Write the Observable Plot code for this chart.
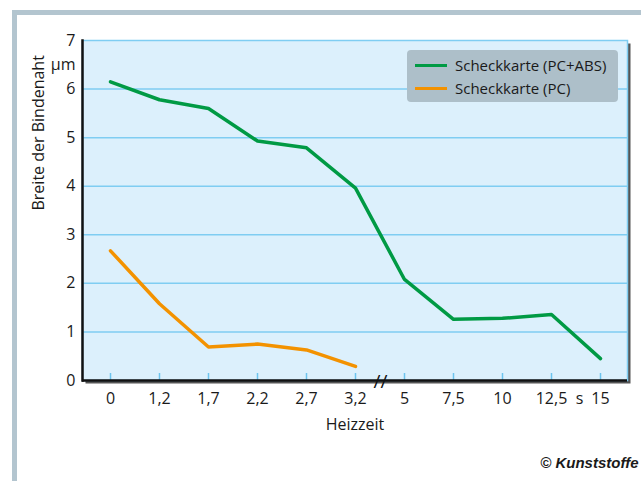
<!DOCTYPE html>
<html>
<head>
<meta charset="utf-8">
<script src="https://cdn.jsdelivr.net/npm/d3@7"></script>
<script src="https://cdn.jsdelivr.net/npm/@observablehq/plot@0.6"></script>
<style>
  html, body { margin: 0; padding: 0; background: #fff; width: 641px; height: 481px; overflow: hidden; }
  #wrap { position: relative; width: 641px; height: 481px; overflow: hidden; font-family: "Open Sans", sans-serif; color: #1a1a1a; }
  #border { position: absolute; left: 12px; top: 10px; width: 700px; height: 600px; border: 5px solid #b3c5cf; box-sizing: border-box; }
  #chart { position: absolute; left: 0; top: 0; }
  #legend { position: absolute; left: 407px; top: 50px; width: 211px; height: 52px; background: #adbfc9; border-radius: 4px; }
  .item { position: absolute; left: 8px; height: 22px; display: flex; align-items: center; font-size: 15px; white-space: nowrap; }
  .sw { width: 32px; height: 3px; margin-right: 8px; }
</style>
</head>
<body>
<div id="wrap">
  <div id="border"></div>
  <div id="chart"></div>
  <div id="legend"></div>
</div>
<script>
const categories = ["0", "1,2", "1,7", "2,2", "2,7", "3,2", "5", "7,5", "10", "12,5", "15"];
const pcAbsValues = [6.15, 5.78, 5.60, 4.93, 4.79, 3.96, 2.08, 1.26, 1.28, 1.36, 0.45];
const pcValues = [2.67, 1.58, 0.69, 0.75, 0.63, 0.29];
const yTicks = [0, 1, 2, 3, 4, 5, 6, 7];
const gridValues = [1, 2, 3, 4, 5, 6];
const seriesNames = ["Scheckkarte (PC+ABS)", "Scheckkarte (PC)"];
const seriesColors = ["#009a44", "#f39200"];
const yUnit = "µm";
const xUnit = "s";
const xTitle = "Heizzeit";
const yTitle = "Breite der Bindenaht";
const breakAfter = "3,2";
const source = "© Kunststoffe";

const rows = [
  ...pcAbsValues.map((v, i) => ({x: categories[i], y: v, series: seriesNames[0]})),
  ...pcValues.map((v, i) => ({x: categories[i], y: v, series: seriesNames[1]}))
];

const chart = Plot.plot({
  width: 641,
  height: 481,
  marginLeft: 82,
  marginRight: 14,
  marginTop: 40,
  marginBottom: 101,
  style: {background: "transparent", fontFamily: "Open Sans, sans-serif", fontSize: "16px", color: "#1a1a1a", overflow: "visible"},
  x: {type: "point", domain: categories, padding: 0.5, tickSize: 0, tickPadding: 12, label: null},
  y: {domain: [0, 7], ticks: yTicks, tickFormat: d => String(d), tickSize: 0, tickPadding: 7, label: null},
  color: {domain: seriesNames, range: seriesColors},
  marks: [
    Plot.frame({fill: "#555", dx: 3, dy: 3}),
    Plot.frame({fill: "#dcf0fc", stroke: "#7fcdf2", strokeWidth: 1.5}),
    Plot.ruleY(gridValues, {stroke: "#7fcdf2", strokeWidth: 1.5}),
    Plot.tickX(categories, {x: d => d, stroke: "#6cc4ee", strokeWidth: 1.5, insetTop: 333}),
    Plot.line(rows, {x: "x", y: "y", z: "series", stroke: "series", strokeWidth: 3.5}),
    Plot.frame({anchor: "left", stroke: "#111", strokeWidth: 2.5}),
    Plot.ruleY([0], {stroke: "#111", strokeWidth: 2.5}),
    Plot.text(["//"], {x: () => breakAfter, y: () => 0, dx: 25, dy: 1, text: d => d, fontSize: 19, fill: "#111"}),
    Plot.text([yUnit], {frameAnchor: "left", y: () => 6.5, dx: -7, textAnchor: "end", text: d => d}),
    Plot.text([xUnit], {x: () => categories[categories.length - 1], frameAnchor: "bottom", lineAnchor: "top", dx: -21, dy: 12, text: d => d}),
    Plot.text([xTitle], {frameAnchor: "bottom", dy: 49, text: d => d}),
    Plot.text([yTitle], {frameAnchor: "left", dx: -44, rotate: -90, text: d => d}),
    Plot.text([source], {frameAnchor: "bottom-right", dx: 11, dy: 87, textAnchor: "end", text: d => d, fontFamily: "Liberation Sans", fontWeight: "bold", fontStyle: "italic", fontSize: 15})
  ]
});
const shadow = chart.querySelector('g[aria-label="frame"]');
if (shadow) { shadow.style.filter = "blur(2px)"; shadow.style.opacity = "0.6"; }
document.getElementById("chart").appendChild(chart);

const legend = document.getElementById("legend");
seriesNames.forEach((name, i) => {
  const item = document.createElement("div");
  item.className = "item";
  item.style.top = (4 + i * 23) + "px";
  const sw = document.createElement("div");
  sw.className = "sw";
  sw.style.background = seriesColors[i];
  const label = document.createElement("span");
  label.textContent = name;
  item.appendChild(sw);
  item.appendChild(label);
  legend.appendChild(item);
});
</script>
</body>
</html>
